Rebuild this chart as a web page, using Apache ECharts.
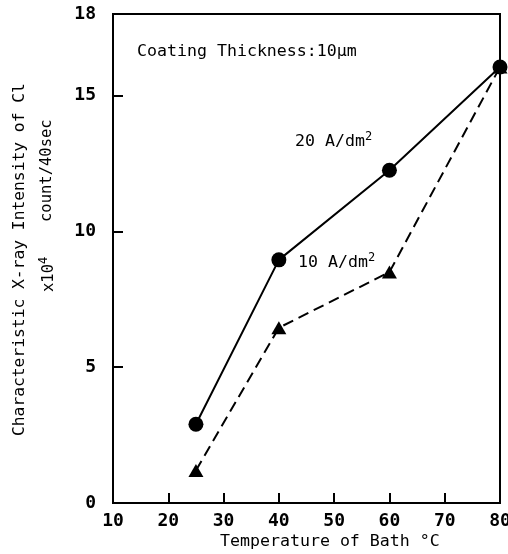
<!DOCTYPE html>
<html>
<head>
<meta charset="utf-8">
<script src="https://cdn.jsdelivr.net/npm/echarts@6/dist/echarts.min.js"></script>
<style>html,body{margin:0;padding:0;background:#fff;overflow:hidden}#c{width:508px;height:554px}</style>
</head>
<body>
<div id="c"></div>
<script>
var temps = [25, 40, 60, 80];
var s20 = [2.9, 8.95, 12.25, 16.05];
var s10 = [1.2, 6.45, 8.5, 16.05];
var xTicks = [10, 20, 30, 40, 50, 60, 70, 80];
var yTicks = [0, 5, 10, 15, 18];

var FONT = '"DejaVu Sans Mono", monospace';
var chart = echarts.init(document.getElementById('c'), null, {renderer: 'canvas', width: 508, height: 554});

function pairs(xs, ys) { return xs.map(function (x, i) { return [x, ys[i]]; }); }

chart.setOption({
  animation: false,
  backgroundColor: '#fff',
  grid: {left: 113, right: 8, top: 14, bottom: 51, containLabel: false, outerBoundsMode: 'none',
    show: true, borderColor: '#000', borderWidth: 2, backgroundColor: 'transparent'},
  xAxis: {
    type: 'value', min: 10, max: 80, interval: 10,
    axisLine: {show: true, lineStyle: {color: '#000', width: 2}},
    axisTick: {show: true, inside: true, length: 10, lineStyle: {color: '#000', width: 2}},
    axisLabel: {color: '#000', fontFamily: FONT, fontSize: 18, fontWeight: 'bold', margin: 9, hideOverlap: false,
      formatter: function (v) { return xTicks.indexOf(v) >= 0 ? String(v) : ''; }},
    splitLine: {show: false}
  },
  yAxis: {
    type: 'value', min: 0, max: 18, interval: 5,
    axisLine: {show: true, lineStyle: {color: '#000', width: 2}},
    axisTick: {show: true, inside: true, length: 10, lineStyle: {color: '#000', width: 2}},
    axisLabel: {color: '#000', fontFamily: FONT, fontSize: 18, fontWeight: 'bold', margin: 17, showMaxLabel: true,
      formatter: function (v) { return yTicks.indexOf(v) >= 0 ? String(v) : ''; }},
    splitLine: {show: false}
  },
  series: [
    {
      name: '20 A/dm2', type: 'line', data: pairs(temps, s20),
      symbol: 'circle', symbolSize: 15,
      lineStyle: {color: '#000', width: 2, type: 'solid'},
      itemStyle: {color: '#000'}
    },
    {
      name: '10 A/dm2', type: 'line', data: pairs(temps, s10),
      symbol: 'triangle', symbolSize: [15, 13],
      lineStyle: {color: '#000', width: 2, type: [11, 6]},
      itemStyle: {color: '#000'}
    }
  ],
  graphic: [
    {type: 'text', left: 137, top: 43, style: {text: 'Coating Thickness:10μm', font: '16.6px ' + FONT, fill: '#000'}},
    {type: 'text', left: 295, top: 131, style: {text: '{a|20 A/dm}{s|2}', fill: '#000',
      rich: {a: {font: '16.6px ' + FONT, fill: '#000'}, s: {font: '12px ' + FONT, fill: '#000', padding: [0, 0, 10, 0]}}}},
    {type: 'text', left: 298, top: 252, style: {text: '{a|10 A/dm}{s|2}', fill: '#000',
      rich: {a: {font: '16.6px ' + FONT, fill: '#000'}, s: {font: '12px ' + FONT, fill: '#000', padding: [0, 0, 10, 0]}}}},
    {type: 'text', x: 220, y: 533, style: {text: 'Temperature of Bath °C', font: '16.6px ' + FONT, fill: '#000'}},
    {type: 'text', x: 12, y: 436, rotation: Math.PI / 2, style: {text: 'Characteristic X-ray Intensity of Cl', font: '16.3px ' + FONT, fill: '#000'}},
    {type: 'text', x: 38, y: 292, rotation: Math.PI / 2, style: {text: '{a|x10}{s|4}', fill: '#000',
      rich: {a: {font: '15.5px ' + FONT, fill: '#000'}, s: {font: '12px ' + FONT, fill: '#000', padding: [0, 0, 10, 0]}}}},
    {type: 'text', x: 39, y: 222, rotation: Math.PI / 2, style: {text: 'count/40sec', font: '15.5px ' + FONT, fill: '#000'}}
  ]
});
</script>
</body>
</html>
